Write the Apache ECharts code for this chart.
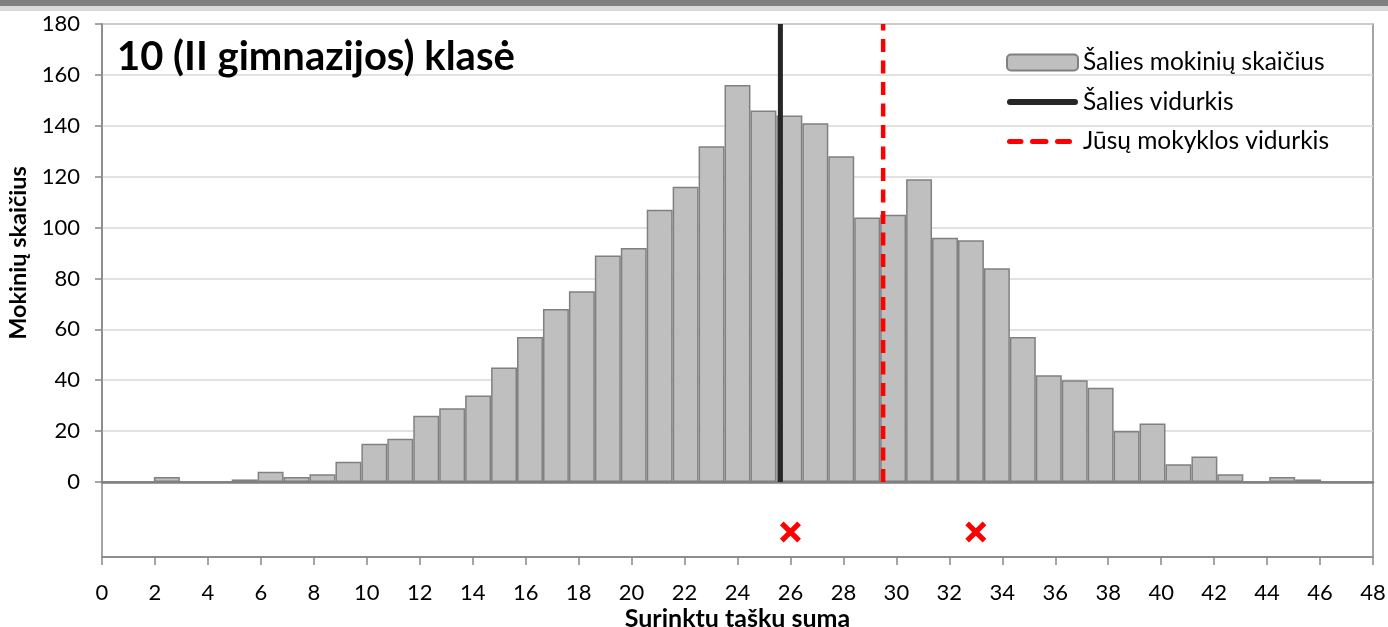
<!DOCTYPE html>
<html>
<head>
<meta charset="utf-8">
<script src="https://cdn.jsdelivr.net/npm/echarts@6/dist/echarts.min.js"></script>
<style>
  html, body { margin: 0; padding: 0; background: #fff; }
  #main { width: 1388px; height: 627px; }
</style>
</head>
<body>
<div id="main"></div>
<script>
// histogram bins 0..48 (surinktų taškų suma)
var binLabels = [];
for (var i = 0; i <= 48; i++) binLabels.push(String(i));
var studentCounts = [0, 0, 2, 0, 0, 1, 4, 2, 3, 8, 15, 17, 26, 29, 34, 45, 57, 68, 75, 89,
    92, 107, 116, 132, 156, 146, 144, 141, 128, 104, 105, 119, 96, 95, 84, 57, 42, 40, 37, 20,
    23, 7, 10, 3, 0, 2, 1, 0, 0];
var nationalMean = 25.62;
var schoolMean = 29.5;
var schoolScores = [26, 33];

var FONT = 'Lato';

// legend icons for the two mean lines (71x16 box)
var solidIcon = 'path://M0,0 L0,0 M71,16 L71,16 M3,5 L68,5 A3,3 0 0 1 68,11 L3,11 A3,3 0 0 1 3,5 Z';
var dashIcon = 'path://M0,0 L0,0 M71,16 L71,16 ' +
    'M2.5,5.5 L14,5.5 A2.5,2.5 0 0 1 14,10.5 L2.5,10.5 A2.5,2.5 0 0 1 2.5,5.5 Z ' +
    'M25.5,5.5 L39,5.5 A2.5,2.5 0 0 1 39,10.5 L25.5,10.5 A2.5,2.5 0 0 1 25.5,5.5 Z ' +
    'M50.5,5.5 L62.5,5.5 A2.5,2.5 0 0 1 62.5,10.5 L50.5,10.5 A2.5,2.5 0 0 1 50.5,5.5 Z';

var myChart = echarts.init(document.getElementById('main'));

var option = {
    animation: false,
    backgroundColor: '#fff',
    textStyle: { fontFamily: FONT },
    graphic: [
        { type: 'rect', shape: { x: 0, y: 0, width: 1388, height: 6 }, style: { fill: '#808080' } },
        { type: 'rect', shape: { x: 0, y: 6, width: 1388, height: 5 }, style: { fill: '#d9d9d9' } }
    ],
    title: {
        text: '10 (II gimnazijos) klasė',
        left: 112,
        top: 32,
        textStyle: { fontFamily: FONT, fontSize: 40, fontWeight: 'bold', color: '#000' }
    },
    legend: {
        orient: 'vertical',
        left: 1001,
        top: 45,
        itemWidth: 71,
        itemHeight: 16,
        itemGap: 14.5,
        textStyle: { fontFamily: FONT, fontSize: 24.5, color: '#000' },
        data: [
            { name: 'Šalies mokinių skaičius' },
            { name: 'Šalies vidurkis', icon: solidIcon },
            { name: 'Jūsų mokyklos vidurkis', icon: dashIcon }
        ]
    },
    grid: [
        { left: 102, right: 15, top: 24, height: 458, show: true, borderColor: '#888', borderWidth: 1.5, outerBoundsMode: 'none' },
        { left: 102, right: 15, top: 482, height: 75, show: true, borderColor: '#888', borderWidth: 1.5, outerBoundsMode: 'none' }
    ],
    xAxis: [
        {
            type: 'category', gridIndex: 0, data: binLabels, boundaryGap: true,
            axisLine: { show: true, lineStyle: { color: '#808080', width: 2.5 } },
            axisTick: { show: false }, axisLabel: { show: false }
        },
        {
            type: 'value', gridIndex: 0, min: 0, max: 48, show: false
        },
        {
            type: 'value', gridIndex: 1, min: 0, max: 48, interval: 2,
            name: 'Surinktų taškų suma', nameLocation: 'middle', nameGap: 49,
            nameTextStyle: { fontFamily: FONT, fontSize: 25, fontWeight: 'bold', color: '#000' },
            axisLine: { show: true, lineStyle: { color: '#888', width: 1.5 } },
            axisTick: { show: true, length: 8, lineStyle: { color: '#888', width: 1.5 } },
            axisLabel: { fontFamily: FONT, fontSize: 22, color: '#000', margin: 25 },
            splitLine: { show: false }
        }
    ],
    yAxis: [
        {
            type: 'value', gridIndex: 0, min: 0, max: 180, interval: 20,
            name: 'Mokinių skaičius', nameLocation: 'middle', nameGap: 68,
            nameTextStyle: { fontFamily: FONT, fontSize: 23.5, fontWeight: 'bold', color: '#000' },
            axisLine: { show: true, lineStyle: { color: '#888', width: 1.5 } },
            axisTick: { show: true, length: 7, lineStyle: { color: '#888', width: 1.5 } },
            axisLabel: { fontFamily: FONT, fontSize: 22, color: '#000', margin: 22 },
            splitLine: { lineStyle: { color: '#d9d9d9', width: 1.5 } }
        },
        {
            type: 'value', gridIndex: 1, min: 0, max: 1, show: false
        }
    ],
    series: [
        {
            name: 'Šalies mokinių skaičius',
            type: 'bar',
            xAxisIndex: 0, yAxisIndex: 0,
            data: studentCounts,
            barCategoryGap: '0%',
            itemStyle: { color: '#bfbfbf', borderColor: '#808080', borderWidth: 1.5 }
        },
        {
            name: 'Šalies vidurkis',
            type: 'line',
            xAxisIndex: 1, yAxisIndex: 0,
            symbol: 'none',
            data: [[nationalMean, 0], [nationalMean, 180]],
            lineStyle: { color: '#262626', width: 5 },
            itemStyle: { color: '#262626' },
            z: 5
        },
        {
            name: 'Jūsų mokyklos vidurkis',
            type: 'line',
            xAxisIndex: 1, yAxisIndex: 0,
            symbol: 'none',
            data: [[schoolMean, 0], [schoolMean, 180]],
            lineStyle: { color: '#ff0000', width: 4.5, type: [13, 8.5] },
            itemStyle: { color: '#ff0000' },
            z: 6
        },
        {
            name: 'Mokiniai',
            type: 'scatter',
            xAxisIndex: 2, yAxisIndex: 1,
            symbol: 'path://M3.5,0 L10,6.5 L16.5,0 L20,3.5 L13.5,10 L20,16.5 L16.5,20 L10,13.5 L3.5,20 L0,16.5 L6.5,10 L0,3.5 Z',
            symbolSize: 21,
            itemStyle: { color: '#ff0000', opacity: 1 },
            data: schoolScores.map(function (s) { return [s, 0.333]; })
        }
    ]
};

myChart.setOption(option);
</script>
</body>
</html>
